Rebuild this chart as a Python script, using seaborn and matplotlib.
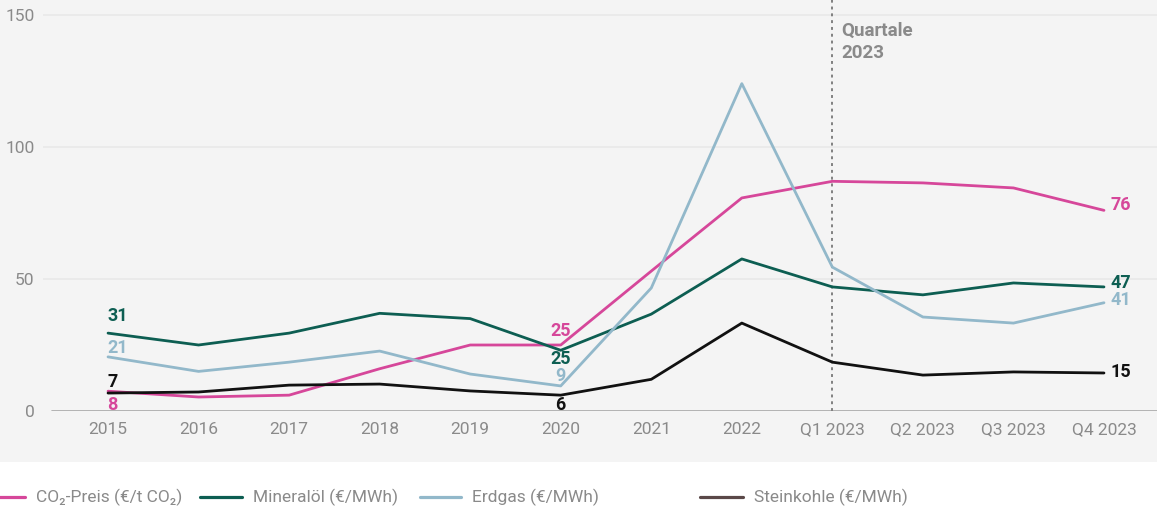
import matplotlib
matplotlib.use("Agg")
import matplotlib.pyplot as plt
import seaborn as sns
import pandas as pd
from matplotlib.patches import Rectangle
from matplotlib.lines import Line2D

periods = ["2015", "2016", "2017", "2018", "2019", "2020", "2021", "2022",
           "Q1 2023", "Q2 2023", "Q3 2023", "Q4 2023"]
co2 = [7.5, 5.3, 6.0, 16.0, 25.0, 25.0, 53.0, 80.7, 87.0, 86.4, 84.5, 76.0]
mineraloel = [29.5, 25.0, 29.5, 37.0, 35.0, 23.0, 36.7, 57.6, 47.0, 44.0, 48.5, 47.0]
erdgas = [20.5, 15.0, 18.5, 22.7, 14.0, 9.5, 46.6, 124.0, 54.5, 35.6, 33.3, 41.0]
steinkohle = [6.8, 7.2, 9.8, 10.2, 7.6, 6.0, 12.0, 33.3, 18.5, 13.6, 14.8, 14.4]

series_names = ["CO₂-Preis (€/t CO₂)", "Mineralöl (€/MWh)", "Erdgas (€/MWh)", "Steinkohle (€/MWh)"]
series_values = [co2, mineraloel, erdgas, steinkohle]
colors = ["#d6479a", "#0d5e52", "#92b8ca", "#111111"]
legend_colors = ["#d6479a", "#0d5e52", "#92b8ca", "#5a4848"]

# labels: (series index, period index, text)
left_labels = [(1, 0, "31"), (2, 0, "21"), (3, 0, "7"), (0, 0, "8")]
mid_labels = [(0, 5, "25"), (1, 5, "25"), (2, 5, "9"), (3, 5, "6")]
right_labels = [(0, 11, "76"), (1, 11, "47"), (2, 11, "41"), (3, 11, "15")]

rows = []
for name, vals in zip(series_names, series_values):
    for i, v in enumerate(vals):
        rows.append({"x": i, "value": v, "series": name})
df = pd.DataFrame(rows)

sns.set_theme(style="white")
plt.rcParams["font.family"] = ["Roboto", "DejaVu Sans"]

W, H = 1157, 509
fig = plt.figure(figsize=(W / 100, H / 100), dpi=100)
fig.patch.set_facecolor("white")
fig.patches.append(Rectangle((0, 47 / H), 1, 1 - 47 / H, transform=fig.transFigure,
                             facecolor="#f4f4f4", edgecolor="none", zorder=-10))

ax = fig.add_axes([43 / W, 98 / H, (W - 43) / W, 411 / H])
ax.set_facecolor("none")

sns.lineplot(data=df, x="x", y="value", hue="series", palette=dict(zip(series_names, colors)),
             linewidth=2.0, ax=ax, legend=False, zorder=3)

spacing = 90.5
ax.set_xlim(-65 / spacing, 11 + 53 / spacing)
ax.set_ylim(0, 411 / 2.64)

for s in ax.spines.values():
    s.set_visible(False)

for yv in [50, 100, 150]:
    ax.axhline(yv, color="#e9e9e9", linewidth=1.2, zorder=0)
ax.axhline(0, xmin=9 / (W - 43), color="#a8a8a8", linewidth=1.2, zorder=1)

ax.set_yticks([0, 50, 100, 150])
ax.set_yticklabels(["0", "50", "100", "150"])
ax.set_xticks(range(len(periods)))
ax.set_xticklabels(periods)
ax.tick_params(axis="both", length=0, labelsize=12.5, labelcolor="#8a8a8a")
ax.tick_params(axis="y", pad=6)
ax.tick_params(axis="x", pad=8)
ax.set_xlabel("")
ax.set_ylabel("")

ax.axvline(8, color="#808080", linestyle=(0, (1.5, 2)), linewidth=1.4, zorder=2)
ax.text(8.1, 147.5, "Quartale\n2023", color="#8a8a8a", fontsize=13.5, fontweight="bold",
        va="top", ha="left", linespacing=1.3)

lab_kw = dict(fontsize=13, fontweight="bold")
left_y = {1: 35.8, 2: 23.8, 3: 10.8, 0: 2.3}
for si, pi, t in left_labels:
    ax.text(pi - 0.01, left_y[si], t, color=colors[si], ha="left", va="center", **lab_kw)
mid_y = {0: 30.3, 1: 19.6, 2: 13.2, 3: 2.2}
for si, pi, t in mid_labels:
    ax.text(pi, mid_y[si], t, color=colors[si], ha="center", va="center", **lab_kw)
right_y = {0: 78.0, 1: 48.4, 2: 42.0, 3: 14.6}
for si, pi, t in right_labels:
    ax.text(pi + 0.07, right_y[si], t, color=colors[si], ha="left", va="center", **lab_kw)

# legend entries placed manually (pixel positions)
handle_x = [(-17, 25), (200, 242), (420, 461), (700, 743)]
ly = 12 / H
for (x0, x1), name, c in zip(handle_x, series_names, legend_colors):
    fig.add_artist(Line2D([x0 / W, x1 / W], [ly, ly], color=c, linewidth=2.3,
                          transform=fig.transFigure))
    fig.text((x1 + 11) / W, ly, name, color="#8a8a8a", fontsize=12.5, ha="left", va="center")

fig.savefig("out.png", dpi=100, facecolor=fig.get_facecolor())
